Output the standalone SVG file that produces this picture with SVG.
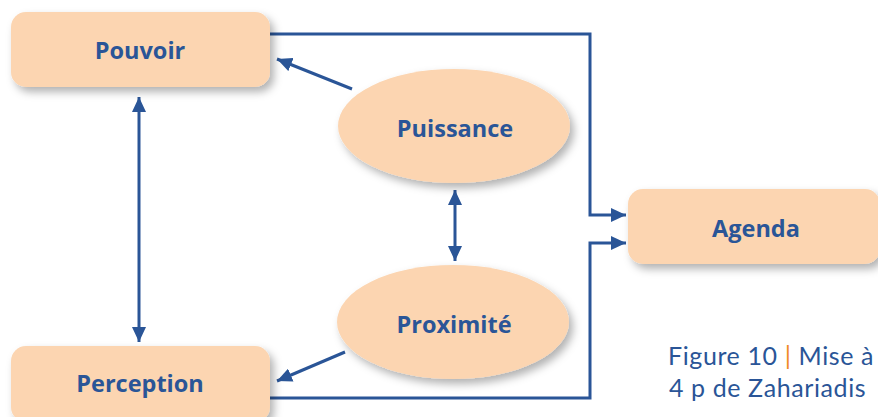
<svg xmlns="http://www.w3.org/2000/svg" width="878" height="417" viewBox="0 0 878 417">
<defs>
<filter id="sh" x="-20%" y="-20%" width="150%" height="160%">
<feDropShadow dx="4" dy="5" stdDeviation="4" flood-color="#000" flood-opacity="0.3"/>
</filter>
<marker id="ah" markerUnits="userSpaceOnUse" markerWidth="16" markerHeight="14" refX="15" refY="7" orient="auto-start-reverse" viewBox="0 0 16 14">
<path d="M0,0 L15,7 L0,14 Z" fill="#2a5597"/>
</marker>
<style>
.n{fill:#fcd5b1;filter:url(#sh)}
.t{font-family:"Open Sans","Liberation Sans",sans-serif;font-weight:700;font-size:23.5px;fill:#2a5597;text-anchor:middle}
.c{fill:none;stroke:#2a5597;stroke-width:3}
.cap{font-family:Lato,"DejaVu Sans",sans-serif;font-weight:400;font-size:25px;letter-spacing:0.6px;fill:#2a5597}
</style>
</defs>
<rect width="878" height="417" fill="#fff"/>
<g id="connectors">
<polyline class="c" points="270,34 590,34 590,215 626,215" marker-end="url(#ah)"/>
<polyline class="c" points="270,398 590,398 590,243 626,243" marker-end="url(#ah)"/>
<line class="c" x1="352" y1="89" x2="277" y2="59" marker-end="url(#ah)"/>
<line class="c" x1="345" y1="352" x2="277" y2="381" marker-end="url(#ah)"/>
<line class="c" x1="139" y1="97" x2="139" y2="342" marker-start="url(#ah)" marker-end="url(#ah)"/>
<line class="c" x1="455" y1="190" x2="455" y2="261" marker-start="url(#ah)" marker-end="url(#ah)"/>
</g>
<g id="pouvoir"><rect class="n" x="11" y="12" width="259" height="75" rx="15"/><text class="t" x="140" y="59">Pouvoir</text></g>
<g id="perception"><rect class="n" x="11" y="346" width="259" height="76" rx="15"/><text class="t" x="140" y="392">Perception</text></g>
<g id="agenda"><rect class="n" x="628" y="189" width="252" height="75" rx="15"/><text class="t" x="756" y="237">Agenda</text></g>
<g id="puissance"><ellipse class="n" cx="454" cy="126" rx="116" ry="57"/><text class="t" x="455" y="137">Puissance</text></g>
<g id="proximite"><ellipse class="n" cx="453" cy="322" rx="116" ry="57"/><text class="t" x="454" y="333">Proximité</text></g>
<g id="caption">
<text class="cap" x="668" y="365">Figure 10 <tspan fill="#f08a24">|</tspan> Mise à</text>
<text class="cap" x="669" y="397">4 p de Zahariadis</text>
</g>
</svg>
